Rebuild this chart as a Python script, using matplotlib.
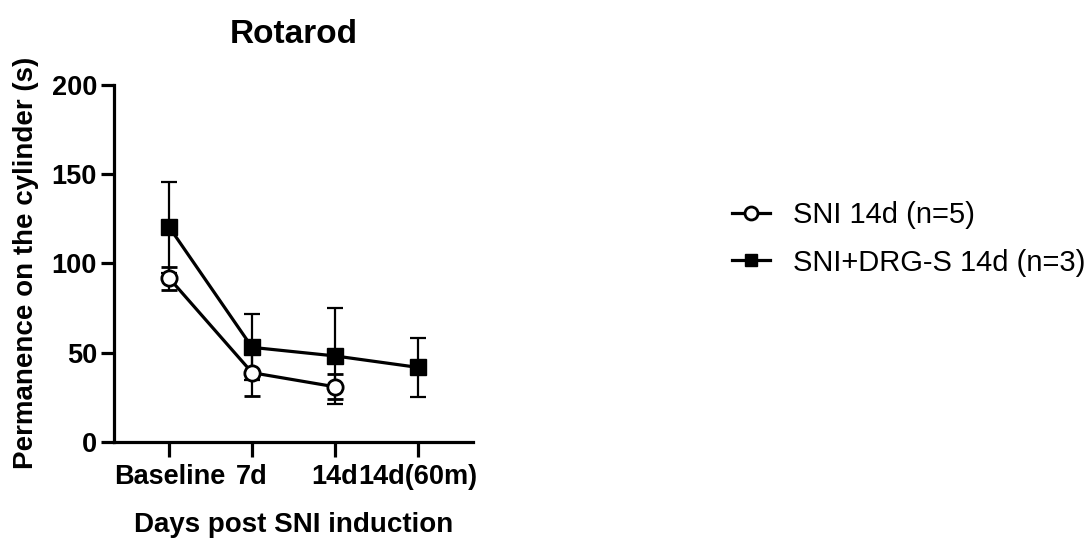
import matplotlib
matplotlib.use("Agg")
import matplotlib.pyplot as plt

# Data (mean +/- SD)
days = ['Baseline', '7d', '14d', '14d(60m)']
sni_label = 'SNI 14d (n=5)'
sni_mean = [91.6, 38.7, 30.8]
sni_sd = [6.5, 13.1, 7.0]
drg_label = 'SNI+DRG-S 14d (n=3)'
drg_mean = [120.2, 52.9, 48.1, 41.7]
drg_sd = [25.6, 18.5, 26.9, 16.6]
yticks = [0, 50, 100, 150, 200]

plt.rcParams['font.family'] = ['Liberation Sans', 'DejaVu Sans']
plt.rcParams['font.weight'] = 'bold'
plt.rcParams['axes.labelweight'] = 'bold'
plt.rcParams['axes.titleweight'] = 'bold'

fig = plt.figure(figsize=(10.92, 5.46), dpi=100)
ax = fig.add_axes([0.1047, 0.191, 0.3285, 0.6533])

# square series first, open circles on top
drg = ax.errorbar(range(len(drg_mean)), drg_mean, yerr=drg_sd, fmt='-s', color='black',
                  lw=2.3, ms=11, mfc='black', mec='black', capsize=5.5,
                  elinewidth=1.6, capthick=1.6, zorder=3)
sni = ax.errorbar(range(len(sni_mean)), sni_mean, yerr=sni_sd, fmt='-o', color='black',
                  lw=2.3, ms=11, mfc='white', mec='black', mew=2, capsize=5.5,
                  elinewidth=1.6, capthick=1.6, zorder=4)

ax.set_xlim(-0.665, 3.67)
ax.set_ylim(0, 200)
ax.set_xticks(range(len(days)))
ax.set_xticklabels(days)
ax.set_yticks(yticks)

for side in ['top', 'right']:
    ax.spines[side].set_visible(False)
for side in ['left', 'bottom']:
    ax.spines[side].set_linewidth(2.3)

ax.tick_params(axis='y', length=9.5, width=2.3, pad=3, labelsize=19.5)
ax.tick_params(axis='x', length=10.8, width=2.3, pad=5, labelsize=19.5)

ax.set_title('Rotarod', fontsize=24, pad=30)
ax.set_xlabel('Days post SNI induction', fontsize=20, labelpad=16)
ax.set_ylabel('Permanence on the cylinder (s)', fontsize=20, labelpad=9)

# legend uses only the data lines (no error bars), circles first
fig.legend([sni[0], drg[0]], [sni_label, drg_label], loc='center left',
           bbox_to_anchor=(0.67, 0.5623), frameon=False, borderpad=0,
           borderaxespad=0, handlelength=1.3, handletextpad=0.8,
           labelspacing=0.66, markerscale=0.85,
           prop={'weight': 'normal', 'size': 21})

fig.savefig('out.png', dpi=100)
